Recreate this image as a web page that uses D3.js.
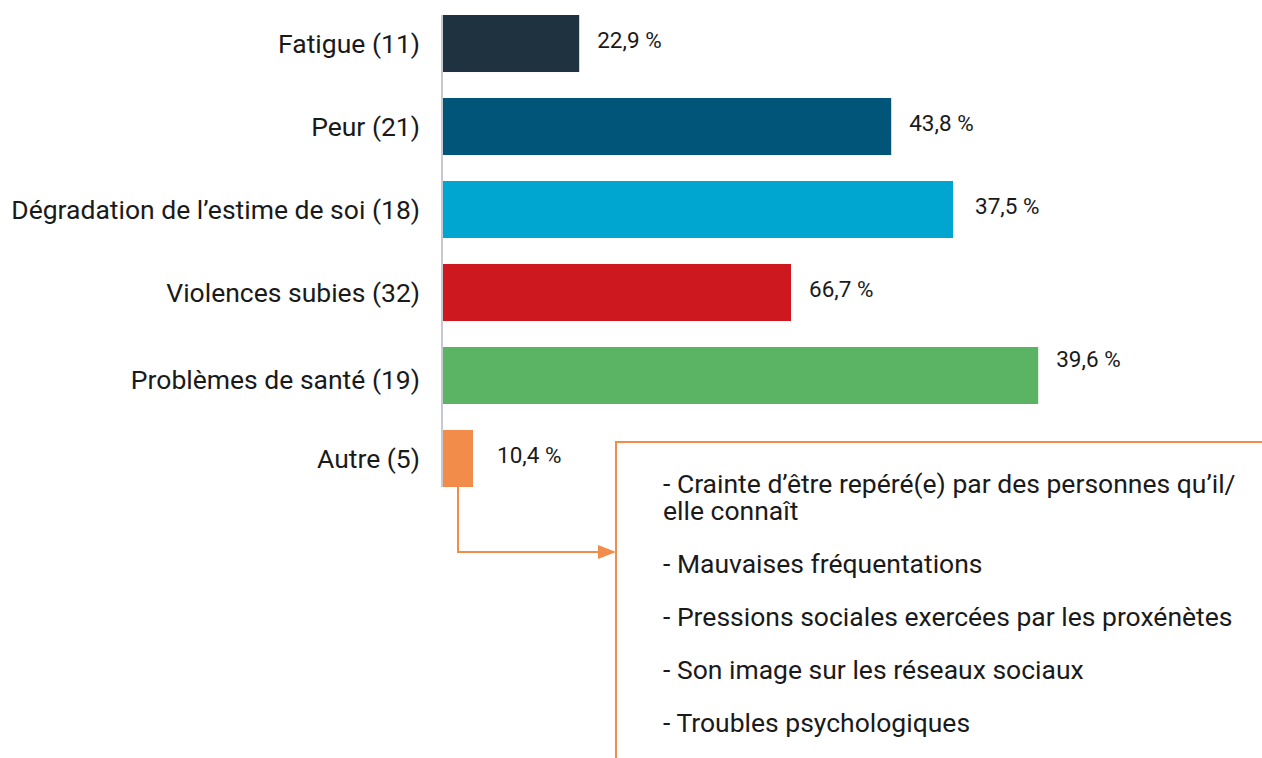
<!DOCTYPE html>
<html><head><meta charset="utf-8">
<script src="https://cdn.jsdelivr.net/npm/d3@7"></script>
<style>
html,body{margin:0;padding:0;background:#fff;}
svg{display:block;font-family:Roboto, "Noto Sans", sans-serif;}
</style></head>
<body>
<svg id="chart" width="1262" height="758"></svg>
<script>
// ---- data ----
const categories = ["Fatigue", "Peur", "Dégradation de l’estime de soi", "Violences subies", "Problèmes de santé", "Autre"];
const counts = [11, 21, 18, 32, 19, 5];
const percents = [22.9, 43.8, 37.5, 66.7, 39.6, 10.4];
// bar lengths as drawn in the original (arbitrary 0-100 units)
const barValues = [22.7, 74.7, 85.0, 58.0, 99.2, 5.0];
const colors = ["#1e3240", "#005578", "#00a6d0", "#cc181e", "#5ab464", "#f28c4b"];
const otherItems = [
  ["- Crainte d’être repéré(e) par des personnes qu’il/", "elle connaît"],
  ["- Mauvaises fréquentations"],
  ["- Pressions sociales exercées par les proxénètes"],
  ["- Son image sur les réseaux sociaux"],
  ["- Troubles psychologiques"]
];

// ---- render ----
const svg = d3.select("#chart");
const x0 = 443;
const x = d3.scaleLinear().domain([0, 100]).range([x0, x0 + 600]);
const y = d3.scaleBand().domain(categories).range([15, 487]).paddingInner(0.313).paddingOuter(0);
const fmt = v => d3.format(".1f")(v).replace(".", ",") + " %";
const textColor = "#1a1a1a";
const orange = colors[5];

// bars
svg.selectAll("rect.bar").data(categories).join("rect")
  .attr("class", "bar")
  .attr("x", x(0))
  .attr("y", d => y(d))
  .attr("width", (d, i) => x(barValues[i]) - x(0))
  .attr("height", y.bandwidth())
  .attr("fill", (d, i) => colors[i]);

// axis line
svg.append("line")
  .attr("x1", x0 - 1).attr("x2", x0 - 1)
  .attr("y1", y.range()[0]).attr("y2", y.range()[1])
  .attr("stroke", "#c8c8d2").attr("stroke-width", 2);

// category labels
const catShift = i => (i === 4 ? 4 : 0);
svg.selectAll("text.cat").data(categories).join("text")
  .attr("class", "cat")
  .attr("x", 420)
  .attr("y", (d, i) => y(d) + y.bandwidth() / 2 + catShift(i))
  .attr("dy", "0.35em")
  .attr("text-anchor", "end")
  .attr("font-size", 26.5)
  .attr("fill", textColor)
  .text((d, i) => `${d} (${counts[i]})`);

// value labels
const labelShift = i => (i === 4 ? -16 : -3);
const labelGap = i => (i === 5 ? 24 : i === 2 ? 22 : 18);
svg.selectAll("text.val").data(categories).join("text")
  .attr("class", "val")
  .attr("x", (d, i) => x(barValues[i]) + labelGap(i))
  .attr("y", (d, i) => y(d) + y.bandwidth() / 2 + labelShift(i))
  .attr("dy", "0.35em")
  .attr("font-size", 22.5)
  .attr("fill", textColor)
  .text((d, i) => fmt(percents[i]));

// callout from "Autre"
const last = categories[5];
const cx = x0 + 15;
const arrowY = 552;
const boxX = 616, boxY = 442;
svg.append("path")
  .attr("d", `M${cx},${y(last) + y.bandwidth()} V${arrowY} H${boxX - 16}`)
  .attr("fill", "none").attr("stroke", orange).attr("stroke-width", 2);
svg.append("path")
  .attr("d", `M${boxX - 18},${arrowY - 7} L${boxX},${arrowY} L${boxX - 18},${arrowY + 7} Z`)
  .attr("fill", orange);
svg.append("path")
  .attr("d", `M1262,${boxY} H${boxX} V758`)
  .attr("fill", "none").attr("stroke", orange).attr("stroke-width", 2);

// box text
const tx = 663;
let ty = 484;
const g = svg.append("g");
otherItems.forEach(lines => {
  const t = g.append("text").attr("x", tx).attr("y", ty)
    .attr("font-size", 26.5).attr("fill", textColor);
  lines.forEach((ln, j) => {
    t.append("tspan").attr("x", tx).attr("y", ty + j * 27).attr("dy", "0.35em").text(ln);
  });
  ty += (lines.length - 1) * 27 + 53;
});
</script>
</body></html>
